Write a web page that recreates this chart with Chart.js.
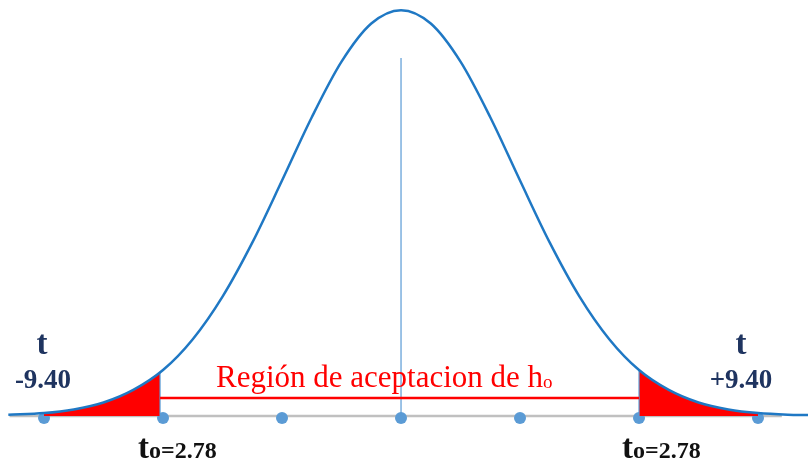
<!DOCTYPE html>
<html>
<head>
<meta charset="utf-8">
<script src="https://cdn.jsdelivr.net/npm/chart.js@4"></script>
<style>
    body { margin: 0; background: #fff; }
    #wrap { width: 808px; height: 463px; }
</style>
</head>
<body>
<div id="wrap"><canvas id="bell-chart"></canvas></div>
<script>
// data (x in tick steps, y as share of the peak)
const dotX = [0, 1, 2, 3, 4, 5, 6];
const curveX = [-0.3, 0, 0.25, 0.5, 0.75, 1, 1.25, 1.5, 1.75, 2, 2.25, 2.5, 2.75, 3,
    3.25, 3.5, 3.75, 4, 4.25, 4.5, 4.75, 5, 5.25, 5.5, 5.75, 6, 6.25, 6.42];
const curveY = [0.003, 0.007, 0.016, 0.033, 0.064, 0.113, 0.189, 0.294, 0.427, 0.58, 0.736, 0.873, 0.967, 1,
    0.967, 0.873, 0.736, 0.58, 0.427, 0.294, 0.189, 0.113, 0.064, 0.033, 0.016, 0.007, 0.003, 0.002];
const leftTailX = [0, 0.25, 0.5, 0.75, 0.975];
const leftTailY = [0.007, 0.016, 0.033, 0.064, 0.108];
const rightTailX = [5, 5.25, 5.5, 5.75, 6];
const rightTailY = [0.113, 0.064, 0.033, 0.016, 0.007];
const criticalX = [0.975, 5];
const acceptY = 0.044;
const centerTop = 0.882;

const regionLabel = "Región de aceptacion de h";
const tLeft = "-9.40";
const tRight = "+9.40";
const tCrit = "=2.78";

const pts = (xs, ys) => xs.map((x, i) => ({ x: x, y: ys[i] }));

// text on top of the chart
const labelsPlugin = {
    id: "labels",
    afterDraw(chart) {
        const ctx = chart.ctx;
        const sx = chart.scales.x;
        const serif = "'Liberation Serif', 'Times New Roman', serif";
        ctx.save();
        ctx.textBaseline = "alphabetic";

        // acceptance region text
        ctx.fillStyle = "#FF0000";
        ctx.textAlign = "left";
        ctx.font = "31px " + serif;
        ctx.fillText(regionLabel, 216, 387);
        const w = ctx.measureText(regionLabel).width;
        ctx.font = "19px " + serif;
        ctx.fillText("o", 216 + w, 388);

        // t values
        ctx.fillStyle = "#1F3460";
        ctx.textAlign = "center";
        ctx.font = "bold 33px " + serif;
        ctx.fillText("t", 42, 354);
        ctx.fillText("t", 741, 354);
        ctx.font = "bold 27px " + serif;
        ctx.fillText(tLeft, 43, 388);
        ctx.fillText(tRight, 741, 388);

        // critical values
        ctx.fillStyle = "#111";
        ctx.textAlign = "left";
        [sx.getPixelForValue(criticalX[0]) - 22, sx.getPixelForValue(criticalX[1]) - 17].forEach((x0) => {
            ctx.font = "bold 33px " + serif;
            ctx.fillText("t", x0, 458);
            const tw = ctx.measureText("t").width;
            ctx.font = "bold 24px " + serif;
            ctx.fillText("o", x0 + tw, 458);
            const ow = ctx.measureText("o").width;
            ctx.fillText(tCrit, x0 + tw + ow, 458);
        });
        ctx.restore();
    },
};

const lineSet = (data, color, width, order) => ({
    data: data,
    borderColor: color,
    borderWidth: width,
    pointRadius: 0,
    fill: false,
    order: order,
});

new Chart(document.getElementById("bell-chart"), {
    type: "line",
    data: {
        datasets: [
            {
                data: pts(curveX, curveY),
                borderColor: "#1F78C4",
                borderWidth: 2.5,
                pointRadius: 0,
                cubicInterpolationMode: "monotone",
                fill: false,
                order: 0,
            },
            lineSet([{ x: criticalX[0], y: acceptY }, { x: criticalX[1], y: acceptY }], "#FF0000", 2.5, 1),
            lineSet([{ x: 3, y: 0 }, { x: 3, y: centerTop }], "#5B9BD5", 1.2, 2),
            lineSet([{ x: criticalX[0], y: -0.017 }, { x: criticalX[0], y: leftTailY[4] }], "#5B9BD5", 1.2, 2),
            lineSet([{ x: criticalX[1], y: -0.017 }, { x: criticalX[1], y: rightTailY[0] }], "#5B9BD5", 1.2, 2),
            {
                data: pts(leftTailX, leftTailY),
                borderWidth: 0,
                backgroundColor: "#FF0000",
                pointRadius: 0,
                cubicInterpolationMode: "monotone",
                fill: "origin",
                order: 3,
            },
            {
                data: pts(rightTailX, rightTailY),
                borderWidth: 0,
                backgroundColor: "#FF0000",
                pointRadius: 0,
                cubicInterpolationMode: "monotone",
                fill: "origin",
                order: 3,
            },
            {
                data: dotX.map((x) => ({ x: x, y: -0.005 })),
                showLine: false,
                pointRadius: 6,
                pointBackgroundColor: "#5B9BD5",
                pointBorderWidth: 0,
                order: 4,
            },
            lineSet([{ x: -0.29, y: 0 }, { x: 6.2, y: 0 }], "#C0C0C0", 2.5, 5),
        ],
    },
    options: {
        responsive: true,
        maintainAspectRatio: false,
        animation: false,
        layout: { padding: 0, autoPadding: false },
        clip: false,
        plugins: {
            legend: { display: false },
            tooltip: { enabled: false },
        },
        scales: {
            x: { type: "linear", min: -0.37, max: 6.42, display: false },
            y: { min: -0.116, max: 1.025, display: false },
        },
    },
    plugins: [labelsPlugin],
});
</script>
</body>
</html>
